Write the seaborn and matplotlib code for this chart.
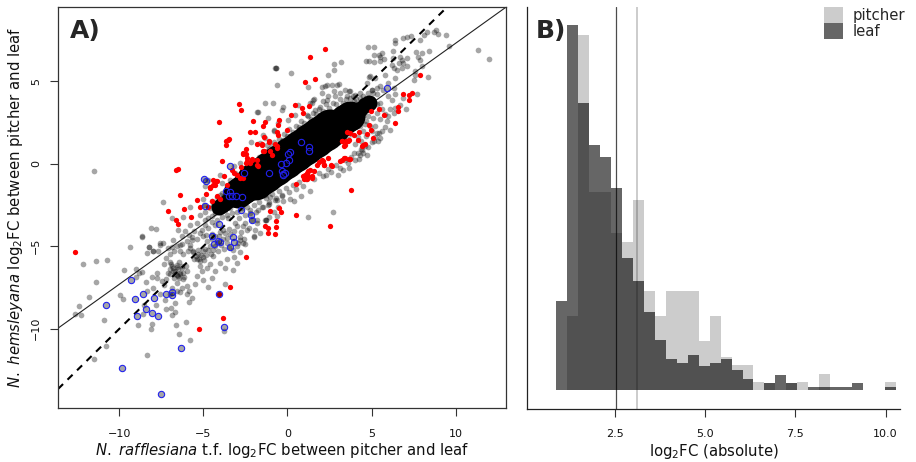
import numpy as np
import matplotlib
matplotlib.use("Agg")
import matplotlib.pyplot as plt
from matplotlib.patches import Patch
import seaborn as sns

# Panel A, values as (rafflesiana, hemsleyana)
gray_points = [
    (-12.18,-6.06),(-11.41,-5.89),(-10.73,-5.83),(-11.37,-7.15),(-11.81,-8.05),(-12.38,-8.60),(-12.64,-9.11),(-12.26,-9.17),
    (-10.91,-9.47),(-9.72,-6.44),(-9.03,-6.36),(-9.35,-5.02),(-8.63,-4.37),(-8.21,-5.02),(-8.35,-5.41),(-8.0,-5.28),
    (-7.7,-5.26),(-7.56,-4.82),(-7.38,-4.8),(-10.79,-11.02),(-11.53,-11.81),(-9.94,-7.93),(-9.78,-8.21),(-8.87,-9.78),
    (-8.12,-10.04),(-8.04,-9.7),(-8.33,-11.61),(-6.63,-9.8),(-6.47,-10.33),(-5.79,-10.65),(-6.03,-9.57),(-3.75,-10.14),
    (-3.69,-7.26),(-4.74,-7.44),(-5.04,-7.03),(-4.29,-6.52),(-3.25,-6.44),(-3.02,-6.02),(-3.99,-6.04),(-4.58,-6.06),
    (-3.57,-5.75),(-3.21,-5.67),(-2.82,-5.37),(-8.81,-6.61),(-9.01,-6.89),(-8.67,-6.54),(-8.43,-7.15),(-8.08,-6.89),
    (-7.78,-6.93),(-8.37,-7.7),(-8.02,-7.54),(-7.46,-7.09),(-7.32,-7.36),(-7.58,-7.91),(-7.28,-8.27),(-7.84,-8.56),
    (-8.57,-9.13),(-8.53,-8.58),(-7.24,-8.82),(-6.94,-8.76),(-6.71,-8.46),(-6.88,-9.19),(-6.71,-8.98),(-6.37,-7.8),
    (-5.87,-7.7),(-5.5,-7.26),(-5.87,-8.37),(-5.69,-8.11),(-7.0,-5.98),(-7.32,-6.08),(-7.74,-6.59),(-6.47,-5.98),
    (-6.21,-5.47),(-6.98,-5.47),(-6.77,-5.3),(-6.37,-5.26),(-5.77,-4.92),(-6.29,-6.18),(-5.99,-6.48),(-5.4,-5.77),
    (-5.0,-5.67),(-4.4,-5.57),(-6.19,-6.99),(-6.59,-7.2),(-6.88,-7.5),(-5.99,-7.4),(-5.4,-6.79),(-5.1,-6.48),
    (-6.88,-6.18),(-6.79,-6.48),(-6.59,-6.28),(-6.39,-6.59),(-6.69,-6.69),(-6.98,-6.38),(-6.49,-6.79),(-7.08,-6.59),
    (-6.88,-5.06),(-6.59,-4.96),(-5.89,-5.26),(-5.6,-5.37),(-5.3,-5.47),(-5.2,-5.87),(-4.9,-5.16),(-4.6,-4.96),
    (-4.21,-4.76),(-3.81,-4.55),(-5.4,-4.55),(-5.0,-4.35),(-5.69,-4.45),(-5.99,-4.65),(-6.29,-4.86),(-4.5,-4.25),
    (-4.0,-4.15),(-3.41,-4.25),(-2.82,-4.45),(-2.52,-4.86),(-3.02,-4.96),(-8.63,-4.44),(-8.11,-3.92),(-7.83,-3.98),
    (-7.4,-2.34),(-6.85,-3.29),(-6.19,-3.25),(-5.77,-2.63),(-5.0,-2.12),(-4.95,-2.5),(-4.0,-0.67),(-3.91,-1.17),
    (-4.7,-0.97),(-4.31,-2.89),(-4.11,-2.79),(-4.5,-3.19),(-4.9,-3.39),(-5.4,-3.6),(-5.79,-3.7),(-6.09,-4.1),
    (-6.49,-4.0),(-6.79,-4.61),(-7.58,-4.91),(-8.21,-5.05),(-7.98,-5.31),(-7.08,-5.11),(-6.39,-4.91),(-5.69,-4.61),
    (-5.2,-4.2),(-4.7,-3.9),(-4.31,-3.7),(-3.81,-4.0),(-3.61,-4.5),(-2.82,-4.61),(-2.62,-4.81),(-2.02,-4.4),
    (-1.92,-4.0),(-2.62,-3.8),(-3.12,-3.6),(-3.51,-3.29),(-1.63,-4.2),(-1.27,-3.39),(-1.83,-3.39),(-2.22,-2.99),
    (-1.13,-2.48),(-0.73,-2.18),(-0.54,-2.59),(-1.43,-2.59),(-1.07,-3.23),(-4.9,-1.37),(-2.16,1.31),(-4.5,-2.28),
    (-3.61,-1.37),(-3.41,-0.97),(-3.12,-0.57),(-4.0,-1.88),(-3.91,-2.28),(-2.82,0.04),(-3.21,-0.16),(-1.43,1.76),
    (-0.83,1.96),(-0.24,1.45),(-1.23,1.15),(-1.33,1.56),(11.31,6.91),(12.0,6.36),(9.6,7.15),(9.42,7.82),
    (8.95,7.88),(8.85,8.12),(8.69,7.98),(8.33,7.98),(8.15,7.82),(7.9,7.49),(7.34,7.76),(7.12,7.66),
    (6.85,7.6),(6.39,7.52),(6.39,7.31),(5.14,7.09),(4.82,7.09),(5.12,6.61),(5.42,6.61),(5.65,6.71),
    (5.52,6.5),(4.66,6.24),(4.88,6.24),(5.16,6.18),(5.48,6.2),(5.75,6.34),(6.29,6.85),(6.27,6.4),
    (6.71,6.5),(6.81,6.3),(6.61,6.1),(6.9,6.1),(7.1,6.4),(7.64,6.75),(8.0,6.71),(8.39,6.85),
    (7.74,6.5),(7.9,6.26),(8.0,5.9),(7.6,5.6),(8.35,5.23),(7.7,4.2),(7.5,5.09),(7.6,5.39),
    (7.1,5.9),(6.81,5.8),(6.51,5.7),(6.31,5.8),(6.21,6.0),(6.41,5.19),(5.81,5.39),(5.22,5.19),
    (4.92,5.29),(5.52,4.73),(6.01,4.89),(6.31,4.58),(6.41,4.2),(6.9,3.98),(6.71,3.58),(6.21,3.88),
    (6.01,4.08),(5.71,4.48),(5.32,4.59),(5.02,4.48),(4.72,4.89),(4.84,5.25),(3.69,4.38),(3.43,4.48),
    (3.13,4.28),(2.94,4.79),(2.64,4.79),(2.44,5.39),(2.74,5.7),(2.78,6.04),(3.19,6.14),(2.24,4.69),
    (2.04,4.65),(0.22,5.5),(-0.63,4.79),(-0.73,5.8),(-0.7,5.8),(-0.67,5.8),(1.21,4.65),(1.49,3.88),
    (1.35,3.68),(-1.35,3.7),(-0.89,3.7),(-0.28,3.43),(-0.34,3.27),(-1.13,2.77),(0.65,3.58),(2.34,3.88),
    (2.84,4.08),(3.53,4.08),(4.33,4.28),(6.41,3.37),(7.04,3.33),(6.07,2.06),(5.42,1.86),(5.52,1.56),
    (5.12,1.35),(4.33,0.55),(3.65,-0.26),(3.29,-0.4),(3.0,-0.71),(2.3,-0.71),(1.35,-1.68),(0.79,-1.98),
    (0.36,-2.28),(0.16,-2.14),(2.7,-2.93),(1.25,-3.25),(-0.63,-3.19),(-1.33,-3.39),(4.23,0.28),(4.52,0.65),
    (5.32,1.86),(6.01,2.87),(6.31,3.07),(-2.58,-4.55),(-2.02,-4.44),(-1.83,-3.6),(-1.29,-3.39),(-0.83,-2.95),
    (-1.09,-2.44),(-0.63,-2.18),(-0.24,-2.28),(-0.34,-1.98),(-2.42,-4.0),(-2.92,-4.81),(3.93,0.65),(4.42,0.85),
    (4.72,0.55),(-1.03,-2.02),(-1.33,-1.88),(-1.73,-2.79),(-2.12,-3.39),(-11.49,-0.44),(-1.79,3.13),(-1.77,3.15),
    (0.06,2.67),(-0.54,2.46),(-0.83,2.06),(-1.63,1.25),(1.55,3.92),(1.45,3.68),(2.08,4.28),(2.38,4.79),
    (3.04,4.83),(3.73,4.38),(4.03,4.18),(2.74,4.38),(2.44,4.08),(2.14,3.78),(1.94,3.47),(1.65,3.27),
    (1.15,2.97),(0.46,2.97),(5.02,4.48),(4.72,3.88),(5.52,3.68),(5.32,3.07),(4.62,3.68),(4.13,3.37),(3.93,3.78),
]
# denser patches of the lower-left tail
tail_points = [
    (-6.9,-6.1),(-6.8,-6.3),(-6.7,-6.5),(-6.6,-6.15),(-6.5,-6.4),(-6.4,-6.7),(-6.6,-6.75),(-6.3,-6.3),(-6.2,-6.6),(-6.75,-6.9),
    (-6.45,-6.9),(-6.15,-6.85),(-6.05,-6.2),(-5.8,-5.1),(-5.6,-5.3),(-5.45,-5.6),(-5.3,-5.2),(-5.15,-5.5),(-5.0,-5.3),(-4.85,-5.55),
    (-5.55,-5.75),(-5.25,-5.8),(-4.95,-5.85),(-4.7,-5.2),(-4.55,-5.45),(-4.4,-5.2),(-4.3,-5.0),(-4.15,-5.3),(-3.95,-4.9),(-3.8,-5.15),
    (-3.6,-4.8),(-3.45,-5.05),(-3.25,-5.2),(-4.8,-4.7),(-4.5,-4.55),(-4.3,-4.4),(-4.05,-4.4),(-3.7,-4.2),(-3.5,-3.95),(-3.2,-4.1),
    (-3.0,-3.75),(-2.75,-4.15),(-2.5,-3.6),(-2.3,-3.9),(-5.1,-4.0),(-4.85,-4.3),(-5.55,-4.05),(-6.25,-4.4),(-5.85,-4.3),(-7.25,-5.7),
    (-7.0,-6.7),(-7.2,-7.0),(-6.0,-7.9),(-6.3,-7.5),(-6.6,-7.7),(-7.0,-7.9),(-5.2,-6.2),(-4.8,-6.3),(-4.5,-6.9),(-3.7,-6.3),
]
# haze along the two long edges of the central mass
halo_points = [
    (-5.2,-3.1),(-4.9,-2.9),(-4.7,-3.3),(-4.6,-2.7),(-4.4,-2.5),(-4.3,-3.0),(-4.1,-2.2),(-3.9,-2.6),(-3.8,-1.95),(-3.6,-1.7),
    (-3.5,-2.2),(-3.3,-1.5),(-3.2,-1.1),(-3.0,-1.3),(-2.9,-0.9),(-2.7,-1.1),(-2.6,-0.6),(-2.4,-0.8),(-2.3,-0.3),(-2.1,-0.5),
    (-2.0,0.0),(-1.8,-0.2),(-1.7,0.4),(-1.5,0.2),(-1.4,0.7),(-1.2,0.5),(-1.1,0.9),(-0.9,0.8),(-0.8,1.3),(-0.6,1.1),
    (-0.5,1.5),(-0.3,1.4),(-0.2,1.8),(0.0,1.7),(0.1,2.1),(0.3,1.9),(0.5,2.3),(0.7,2.2),(0.8,2.6),(1.0,2.5),
    (1.2,2.9),(1.4,2.7),(1.5,3.1),(1.7,3.0),(1.9,3.3),(2.1,3.2),(2.3,3.6),(2.5,3.4),(2.7,3.7),(2.9,3.6),
    (3.1,3.9),(3.3,3.7),(3.5,3.9),(3.7,4.0),(3.9,4.1),(4.1,3.9),(4.3,4.0),(4.5,4.1),(4.8,4.3),(5.1,4.3),(5.3,4.2),
    (-4.9,-3.7),(-4.5,-3.5),(-4.2,-3.4),(-3.9,-3.2),(-3.6,-3.1),(-3.3,-3.0),(-3.0,-2.9),(-2.9,-3.3),(-2.7,-2.7),(-2.5,-3.1),
    (-2.4,-2.6),(-2.2,-2.8),(-2.0,-2.5),(-1.9,-2.9),(-1.7,-2.3),(-1.5,-2.6),(-1.3,-2.1),(-1.1,-2.3),(-0.9,-1.85),(-0.7,-2.1),
    (-0.5,-1.65),(-0.3,-1.9),(-0.1,-1.45),(0.1,-1.7),(0.3,-1.3),(0.5,-1.5),(0.7,-1.1),(0.9,-1.35),(1.1,-0.95),(1.6,-0.9),
    (1.9,-0.55),(2.1,-0.75),(2.4,-0.3),(2.6,-0.5),(2.9,-0.05),(3.1,-0.25),(3.4,0.2),(3.6,0.05),(3.8,0.4),(4.0,0.25),
    (4.2,0.65),(4.4,0.9),(4.6,1.1),(4.8,1.0),(5.0,1.3),(5.2,1.6),(5.4,1.4),(5.6,2.0),(5.8,2.2),(5.9,2.6),
    (6.1,3.3),(5.8,3.0),(5.5,2.7),(5.2,2.3),(5.0,2.0),(4.7,2.6),(4.4,3.0),(4.2,3.4),(4.9,3.3),(5.3,3.6),(5.6,3.3),
    (3.6,1.5),(3.8,1.8),(4.0,1.2),(4.2,1.6),(4.4,1.4),(4.5,2.0),(4.7,1.7),(4.3,2.3),(4.6,2.4),(4.9,2.3),
    (5.1,2.8),(4.8,2.9),(4.5,2.9),(4.2,2.8),(3.9,3.4),(3.6,3.4),(3.3,3.3),(5.0,3.9),(4.7,4.0),(4.4,3.7),
    (-3.0,-2.4),(-2.7,-2.3),(-2.5,-2.2),(-2.2,-2.1),(-1.9,-1.9),(-3.4,-2.7),(-3.7,-2.8),(-4.0,-2.9),(-2.7,-0.8),(-3.0,-1.0),
    (-3.3,-1.3),(-3.6,-1.5),(-3.9,-1.8),(-4.2,-2.0),(-2.4,-0.5),(-2.1,-0.2),(-1.8,0.1),(-1.5,0.5),(-1.2,0.8),(-0.9,1.1),
]
red_points = [
    (-2.9,3.62),(-2.76,3.25),(-4.05,2.55),(-2.06,2.57),(-2.22,1.9),(-1.92,1.94),(-3.51,1.45),(-3.63,1.37),
    (-3.63,1.13),(-1.83,1.19),(-2.48,0.91),(-2.64,0.59),(-2.48,0.61),(-2.4,0.34),(-2.12,0.28),(-2.46,0.04),
    (-1.83,0.24),(-3.91,0.16),(-1.79,-0.1),(-2.76,-0.22),(-3.31,-0.4),(-3.02,-0.67),(-2.82,-0.87),(-3.75,-0.73),
    (-6.49,-0.3),(-6.61,-0.4),(-4.44,-0.99),(-4.21,-1.07),(-4.31,-1.27),(-3.59,-1.29),(-4.6,-1.43),(-4.86,-1.86),
    (-6.39,-1.9),(-5.36,-2.18),(-4.21,-1.98),(-4.01,-2.12),(-4.46,-2.24),(-5.2,-2.61),(-4.7,-2.59),(-6.13,-2.75),
    (-7.12,-2.87),(-5.75,-3.25),(-6.63,-3.39),(-6.53,-3.66),(-12.66,-5.35),(-2.48,-5.67),(-3.43,-7.46),(-4.09,-7.87),
    (-3.81,-9.35),(-5.26,-10.04),(2.24,6.95),(1.37,6.5),(1.07,4.93),(1.65,5.11),(7.9,5.39),(6.9,4.24),
    (7.4,4.3),(7.24,4.14),(7.24,3.86),(6.55,3.41),(6.59,3.21),(5.46,3.29),(4.98,3.21),(5.75,2.97),
    (6.39,2.48),(4.86,2.34),(4.98,2.06),(4.76,1.8),(5.08,1.58),(4.23,1.94),(3.97,1.76),(3.57,1.92),
    (3.73,1.84),(4.17,1.45),(3.69,1.45),(3.49,1.35),(3.23,1.39),(3.37,1.05),(4.62,1.21),(4.42,1.05),
    (3.71,0.3),(3.37,0.34),(3.13,0.16),(2.4,0.32),(2.14,0.16),(1.9,0.08),(1.75,-0.06),(2.6,-0.1),
    (2.18,-0.1),(1.35,-0.36),(1.15,-0.57),(0.95,-0.77),(1.25,-0.77),(1.45,-0.87),(1.01,-0.93),(0.52,-1.21),
    (3.79,-1.58),(0.5,-3.13),(2.54,-3.76),(0.85,3.37),(1.31,3.49),(0.91,3.07),(0.46,3.54),(0.2,2.95),
    (-0.5,2.67),(-0.54,2.36),(-1.31,2.51),(-1.47,2.26),(-0.04,2.06),(-0.6,1.92),(-0.58,1.73),(-1.39,1.62),
    (-1.09,1.39),(-1.53,1.21),(-0.73,1.21),(-0.63,1.05),(-1.39,0.77),(-1.03,0.79),(-0.93,0.55),(-1.03,-2.89),
    (-0.48,-2.67),(-0.4,-2.93),(-0.69,-3.47),(-1.31,-3.8),(-1.15,-3.88),(-0.69,-3.84),(-1.17,-4.2),(-0.73,-4.24),
    (1.05,-0.67),(1.25,-0.46),(1.45,-0.77),(1.15,-0.93),(1.55,-0.46),(2.04,0.24),(2.2,-0.1),(2.64,-0.12),
    (3.23,0.24),(3.43,0.34),(3.69,0.3),(3.23,1.35),(3.43,1.15),(3.63,1.35),(4.52,1.15),(-2.62,0.65),
    (-2.12,0.24),(-1.73,-0.16),(-2.22,0.04),(-2.42,0.14),(-3.21,-0.57),(-2.66,-0.87),(-1.43,0.75),(-0.63,0.95),
    (-1.53,1.15),(-1.09,1.33),(-3.45,1.49),(-4.4,-1.27),(-4.6,-1.47),(-4.25,-1.07),
]
blue_points = [
    (-10.79,-8.56),(-9.33,-7.05),(-8.57,-7.91),(-9.05,-8.17),(-7.92,-8.13),(-8.41,-8.78),(-8.97,-9.23),(-8.08,-9.04),
    (-7.7,-9.21),(-7.22,-7.91),(-6.85,-7.8),(-6.87,-7.93),(-4.09,-7.87),(-3.77,-9.92),(-6.31,-11.18),(-9.82,-12.38),
    (-7.54,-13.93),(-3.39,-5.06),(-3.19,-4.76),(-3.25,-4.43),(-4.5,-4.37),(-4.38,-4.88),(-4.11,-4.7),(-4.0,-4.76),
    (-3.43,-0.12),(-2.6,-0.57),(-4.94,-0.91),(-4.84,-1.03),(-3.65,-1.68),(-3.41,-1.72),(-3.49,-1.98),(-3.27,-1.98),
    (-3.06,-1.98),(-2.72,-2.02),(-4.92,-2.53),(-2.76,-2.81),(-2.18,-3.09),(-2.1,-3.39),(-4.05,-3.66),(5.91,4.59),
    (0.79,1.29),(1.27,1.01),(1.27,0.77),(0.16,0.69),(0.04,0.61),(0.12,0.24),(-0.08,0.04),(-0.4,0.0),
    (-1.07,-0.53),(-0.32,-0.46),(-0.24,-0.61),(-0.14,-0.57),(-0.28,-0.71),
]
# the solid mass in the middle is too dense to read dot by dot, so it is
# traced by its spine with three widths of overplotted marker
core_wide = [(-1.92,-1.03),(-1.62,-0.82),(-1.33,-0.61),(-1.03,-0.4),(-0.73,-0.18),(-0.43,0.03),(-0.14,0.24),(0.16,0.45),
             (0.46,0.67),(0.76,0.88),(1.05,1.09),(1.35,1.3),(1.65,1.52),(1.95,1.73),(2.24,1.94),(2.54,2.15)]
core_mid = [(-2.93,-1.76),(-2.72,-1.6),(-2.52,-1.45),(-2.22,-1.24),(2.84,2.3),(3.14,2.5),(3.43,2.7),(3.7,2.9)]
core_thin = [(-4.1,-2.65),(-3.9,-2.5),(-3.71,-2.36),(-3.5,-2.2),(-3.29,-2.06),(-3.1,-1.9),(4.0,3.1),(4.3,3.3),(4.6,3.55),(4.85,3.7)]
slope_identity = 1.0
slope_fit = 0.73

# Panel B, heights are relative, no y axis in the original
bin_start = 0.866
bin_width = 0.304
leaf_heights = [89,365,287,245,233,202,132,109,78,50,31,27,35,24,27,31,20,11,0,7.3,15,7.3,0,3.3,3.3,3.3,3.3,7.3,0,0,3.3]
pitcher_heights = [0,74,355,198,198,157,148,190,99,74,99,99,99,49,74,33,25,25,8,7.3,0,7.3,8,0,16,0,0,0,0,0,8]
leaf_median = 2.54
pitcher_median = 3.11
x_ticks_a = [-10, -5, 0, 5, 10]
y_ticks_a = [-10, -5, 0, 5]
x_ticks_b = [2.5, 5.0, 7.5, 10.0]
x_tick_labels_b = ["2.5", "5.0", "7.5", "10.0"]

W, H = 916, 462
DOT_PT = 72 / 100

sns.set_style("ticks")
plt.rcParams["font.family"] = ["DejaVu Sans"]
plt.rcParams["mathtext.fontset"] = "dejavusans"

fig = plt.figure(figsize=(W / 100, H / 100), dpi=100)
ax1 = fig.add_axes([58 / W, (H - 408) / H, 448 / W, 401 / H])
ax2 = fig.add_axes([527 / W, (H - 408.5) / H, 373 / W, 401.5 / H])


def area(diameter_px):
    return (diameter_px * DOT_PT) ** 2


def unpack(points):
    return [p[0] for p in points], [p[1] for p in points]


# A) scatter
ax1.axline((0, 0), slope=slope_identity, color="black", lw=1.5, dashes=(3.4, 3.0), zorder=1)
ax1.axline((0, 0), slope=slope_fit, color="#222222", lw=0.8, zorder=1)
x, y = unpack(gray_points + tail_points + halo_points)
sns.scatterplot(x=x, y=y, color="black", alpha=0.35, s=area(5.7), linewidth=0, ax=ax1, zorder=2)
for points, width in [(core_wide, 38), (core_mid, 30), (core_thin, 16)]:
    x, y = unpack(points)
    sns.scatterplot(x=x, y=y, color="black", s=area(width), linewidth=0, ax=ax1, zorder=3)
x, y = unpack(red_points)
sns.scatterplot(x=x, y=y, color="#ff0000", s=area(5.3), linewidth=0, ax=ax1, zorder=4)
x, y = unpack(blue_points)
sns.scatterplot(x=x, y=y, color="black", s=area(6.3), edgecolor="#2222ee", linewidth=0.8, ax=ax1, zorder=5)
ax1.collections[-1].set_facecolor((0, 0, 0, 0.35))

ax1.set_xlim(-13.65, 13.0)
ax1.set_ylim(-14.8, 9.5)
ax1.set_xticks(x_ticks_a)
ax1.set_yticks(y_ticks_a)
ax1.set_xlabel(r"$\mathit{N.\ rafflesiana}$ t.f. log$_2$FC between pitcher and leaf", fontsize=10.7, labelpad=2, color="#111111")
ax1.set_ylabel(r"$\mathit{N.\ hemsleyana}$ log$_2$FC between pitcher and leaf", fontsize=10.7, labelpad=4.5, color="#111111")
ax1.tick_params(axis="x", length=5.8, width=0.8, color="#333333", labelsize=8, labelcolor="#111111", pad=9)
ax1.tick_params(axis="y", length=5.8, width=0.8, color="#333333", labelsize=8, labelcolor="#111111", pad=6.5)
plt.setp(ax1.get_yticklabels(), rotation=90, va="center")
for spine in ax1.spines.values():
    spine.set_color("#333333")
    spine.set_linewidth(0.9)
ax1.text((70 - 58) / 448, (408 - 38) / 401, "A)", transform=ax1.transAxes, fontsize=18, fontweight="bold", va="baseline")

# B) overlaid histograms
edges = list(bin_start + bin_width * np.arange(len(leaf_heights) + 1))
centers = [(a + b) / 2 for a, b in zip(edges[:-1], edges[1:])]
sns.histplot(x=centers, weights=pitcher_heights, bins=edges, element="step", color="black", alpha=0.2, linewidth=0, ax=ax2)
sns.histplot(x=centers, weights=leaf_heights, bins=edges, element="step", color="black", alpha=0.6, linewidth=0, ax=ax2)
ax2.axvline(leaf_median, color="black", alpha=0.7, lw=0.9)
ax2.axvline(pitcher_median, color="black", alpha=0.2, lw=1.4)

ax2.set_xlim(0.06, 10.4)
ax2.set_ylim(-18.2, 383.3)
ax2.set_xticks(x_ticks_b)
ax2.set_xticklabels(x_tick_labels_b)
ax2.set_yticks([])
ax2.set_ylabel("")
ax2.set_xlabel(r"log$_2$FC (absolute)", fontsize=10.7, labelpad=2, color="#111111")
ax2.tick_params(axis="x", length=5.8, width=0.8, color="#333333", labelsize=8, labelcolor="#111111", pad=9)
sns.despine(ax=ax2)
for side in ["left", "bottom"]:
    ax2.spines[side].set_color("#222222")
    ax2.spines[side].set_linewidth(0.9)
ax2.text((536 - 527) / 373, (408.5 - 38) / 401.5, "B)", transform=ax2.transAxes, fontsize=18, fontweight="bold", va="baseline")

ax2.legend(
    handles=[Patch(facecolor=(0, 0, 0, 0.2), linewidth=0, label="pitcher"),
             Patch(facecolor=(0, 0, 0, 0.6), linewidth=0, label="leaf")],
    loc="upper left", bbox_to_anchor=(824 / W, (H - 7) / H), bbox_transform=fig.transFigure,
    frameon=False, fontsize=10.7, handlelength=1.31, handleheight=1.28,
    labelspacing=0, borderpad=0, borderaxespad=0, handletextpad=0.64,
)

fig.savefig("out.png", dpi=100)
